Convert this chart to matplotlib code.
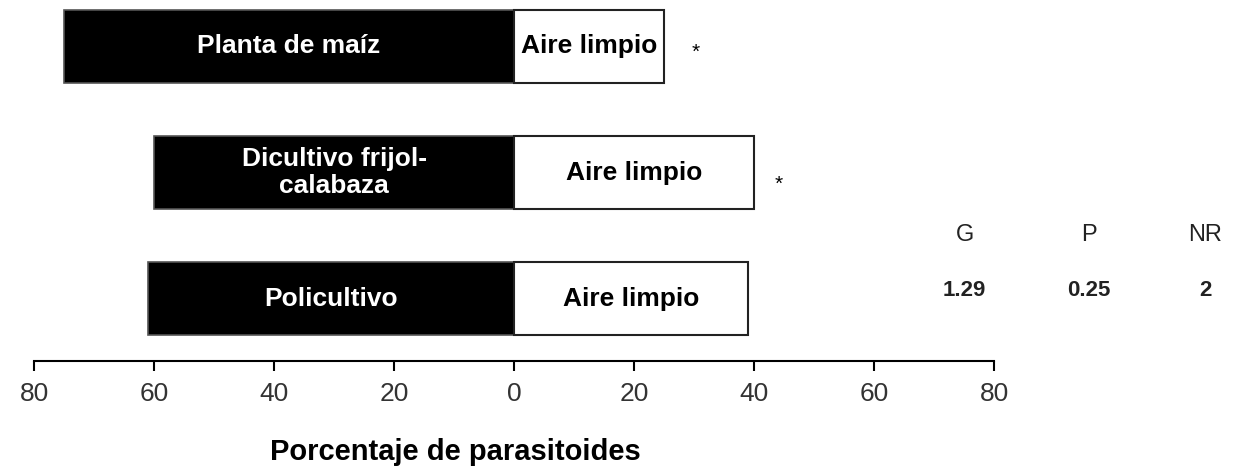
import matplotlib.pyplot as plt

# datos
tratamientos = ['Planta de maíz', 'Dicultivo frijol-\ncalabaza', 'Policultivo']
pct_tratamiento = [75, 60, 61]
pct_aire = [25, 40, 39]
control = 'Aire limpio'
signif = ['*', '*', '']
tabla_cols = ['G', 'P', 'NR']
tabla_vals = ['1.29', '0.25', '2']

fuente = ['Liberation Sans', 'DejaVu Sans']

fig = plt.figure(figsize=(12.33, 4.66), dpi=100)
ax = fig.add_axes([0.02758, 0.2253, 0.7786, 0.7747])

ypos = [2, 1, 0]
h = 0.58
ax.barh(ypos, [-v for v in pct_tratamiento], height=h, color='black',
        edgecolor='#555555', linewidth=1.2)
ax.barh(ypos, pct_aire, height=h, color='white', edgecolor='#222222', linewidth=1.5)

star_pos = {2: (30.25, 1.956), 1: (44.1, 0.905)}
for y, lab, l, r, s in zip(ypos, tratamientos, pct_tratamiento, pct_aire, signif):
    ax.text(-l / 2, y, lab, color='white', ha='center', va='center',
            fontsize=19, fontweight='bold', family=fuente, linespacing=1.15)
    ax.text(r / 2, y, control, color='black', ha='center', va='center',
            fontsize=19, fontweight='bold', family=fuente)
    if s:
        sx, sy = star_pos[y]
        ax.text(sx, sy, s, ha='center', va='center', fontsize=15, family=fuente)

# tabla G / P / NR
xs = [75.1, 95.75, 115.25]
for x, c, v in zip(xs, tabla_cols, tabla_vals):
    ax.text(x, 0.504, c, ha='center', va='center', fontsize=17, family=fuente,
            color='#222222', clip_on=False)
    ax.text(x, 0.067, v, ha='center', va='center', fontsize=16, family=fuente,
            fontweight='bold', color='#222222', clip_on=False)

ax.set_xlim(-80, 80)
ax.set_ylim(-0.496, 2.369)
ax.set_xticks(range(-80, 81, 20))
ax.set_xticklabels([str(abs(t)) for t in range(-80, 81, 20)], family=fuente,
                   fontsize=19, color='#333333')
ax.set_yticks([])
for side in ['top', 'right', 'left']:
    ax.spines[side].set_visible(False)
ax.spines['bottom'].set_linewidth(1.5)
ax.tick_params(axis='x', length=7, width=1.5, pad=8)

fig.text(455 / 1233, 1 - 452 / 466, 'Porcentaje de parasitoides', ha='center',
         va='center', fontsize=21, fontweight='bold', family=fuente)

fig.savefig('out.png', dpi=100)
